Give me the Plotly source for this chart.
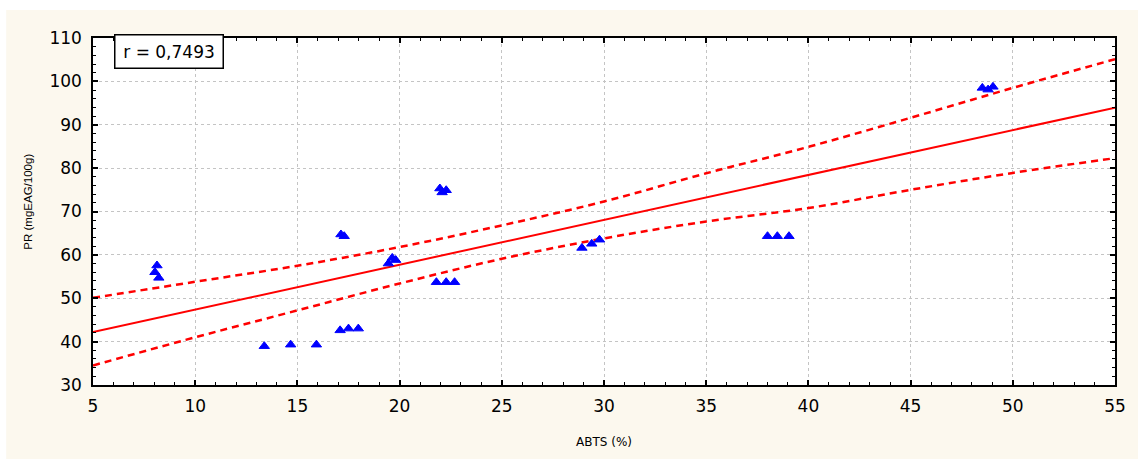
import plotly.graph_objects as go

# Scatter data (ABTS %, PR mgEAG/100g)
abts = [8.13, 8.03, 8.22, 13.38, 14.67, 15.93, 17.09, 17.50, 17.98, 17.13, 17.29,
        19.45, 19.64, 19.81, 21.97, 22.28, 22.08, 21.80, 22.28, 22.69,
        28.92, 29.40, 29.78, 38.00, 38.48, 39.05, 48.51, 48.79, 49.03]
pr = [57.55, 56.0, 54.7, 38.95, 39.3, 39.3, 42.6, 43.0, 43.0, 64.7, 64.3,
      58.0, 59.3, 58.8, 75.3, 74.9, 74.4, 53.7, 53.7, 53.7,
      61.6, 62.55, 63.5, 64.3, 64.3, 64.3, 98.5, 98.1, 98.75]

# Regression line
fit_x = [5, 55]
fit_y = [42.2, 93.95]

# Confidence bands
band_x = [5, 10, 15, 20, 25, 30, 35, 40, 45, 50, 55]
band_upper = [50.1, 53.8, 57.5, 61.8, 66.8, 72.3, 78.8, 84.9, 91.6, 98.5, 105.1]
band_lower = [34.5, 41.0, 47.2, 53.4, 59.1, 63.8, 67.7, 70.8, 75.0, 78.9, 82.3]

x_ticks = [5, 10, 15, 20, 25, 30, 35, 40, 45, 50, 55]
y_ticks = [30, 40, 50, 60, 70, 80, 90, 100, 110]
r_text = "r = 0,7493"
x_title = "ABTS (%)"
y_title = "PR (mgEAG/100g)"

FONT = "'DejaVu Sans', Arial, sans-serif"
FONT_NARROW = "Arial, 'Liberation Sans', sans-serif"
CREAM = "#fcf8ee"

fig = go.Figure()
fig.add_trace(go.Scatter(x=band_x, y=band_upper, mode="lines", line=dict(color="#ff0000", width=2.5, dash="7px,5px", shape="spline"), hoverinfo="skip", showlegend=False))
fig.add_trace(go.Scatter(x=band_x, y=band_lower, mode="lines", line=dict(color="#ff0000", width=2.5, dash="7px,5px", shape="spline"), hoverinfo="skip", showlegend=False))
fig.add_trace(go.Scatter(x=fit_x, y=fit_y, mode="lines", line=dict(color="#ff0000", width=2), showlegend=False))
fig.add_trace(go.Scatter(x=abts, y=pr, mode="markers",
                         marker=dict(symbol="triangle-up", size=9, color="#0000ff", line=dict(color="#0000ff", width=1)),
                         showlegend=False))

axis_common = dict(
    showgrid=True, gridcolor="#c4c4c4", gridwidth=1, griddash="3px,3px",
    showline=True, linecolor="black", linewidth=1.5, mirror="ticks",
    ticks="inside", ticklen=5, tickwidth=1.5, tickcolor="black",
    zeroline=False,
    tickfont=dict(family=FONT, size=17, color="black"),
)

fig.update_xaxes(range=[5, 55], tickvals=x_ticks, ticktext=[str(v) for v in x_ticks],
                 minor=dict(ticks="inside", dtick=1, ticklen=3, tickwidth=1, tickcolor="black", showgrid=False),
                 title=dict(text=x_title, font=dict(family=FONT, size=12, color="black"), standoff=22),
                 ticklabelstandoff=5,
                 **axis_common)
fig.update_yaxes(range=[30, 110], tickvals=y_ticks, ticktext=[str(v) for v in y_ticks],
                 minor=dict(ticks="inside", dtick=2, ticklen=3, tickwidth=1, tickcolor="black", showgrid=False),
                 ticklabelstandoff=6,
                 **axis_common)

W, H = 1138, 459
L, R, T, B = 93, 21, 38, 73
pw, ph = W - L - R, H - T - B

def px(xp):
    return (xp - L) / pw

def py(yp):
    return (H - B - yp) / ph

fig.add_shape(type="rect", xref="paper", yref="paper", x0=px(-5), x1=px(W + 5), y0=py(10), y1=py(-5),
              fillcolor="white", line=dict(width=0), layer="below")
fig.add_shape(type="rect", xref="paper", yref="paper", x0=px(-5), x1=px(6), y0=py(H + 5), y1=py(-5),
              fillcolor="white", line=dict(width=0), layer="below")

fig.add_annotation(text=y_title, xref="paper", yref="paper", x=px(27), y=py(202),
                   xanchor="center", yanchor="middle", showarrow=False, textangle=-90,
                   font=dict(family=FONT_NARROW, size=11.5, color="black"))

fig.add_annotation(text=r_text, xref="paper", yref="paper", x=px(114), y=py(34),
                   xanchor="left", yanchor="top", showarrow=False,
                   font=dict(family=FONT, size=17, color="black"),
                   bgcolor="white", bordercolor="black", borderwidth=1.5, borderpad=2,
                   width=103, height=28, align="center")

fig.update_layout(
    width=W, height=H,
    margin=dict(l=L, r=R, t=T, b=B),
    paper_bgcolor=CREAM, plot_bgcolor="white",
    font=dict(family=FONT, color="black"),
    showlegend=False,
)

fig.write_html("out.html")
